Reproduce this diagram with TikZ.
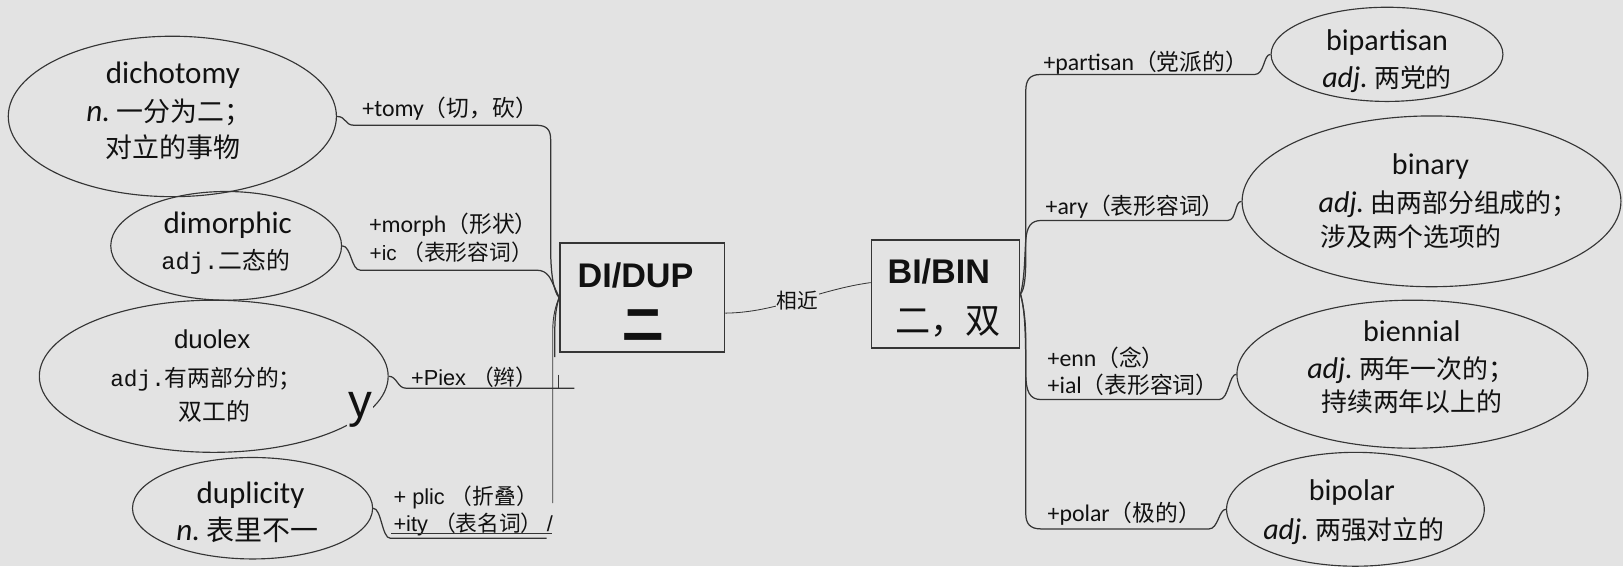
\documentclass[tikz,border=0pt]{standalone}
\usepackage{fontspec}
\setmainfont{Carlito}
\newfontfamily\cjk{Noto Sans CJK SC}
\newfontfamily\arialf{Liberation Sans}
\newfontfamily\monof{Liberation Mono}
\usetikzlibrary{shapes.geometric}
\newcommand\setfs[1]{\fontsize{#1}{#1}\selectfont}
\definecolor{bgc}{HTML}{E3E3E3}
\definecolor{lnc}{HTML}{353535}
\definecolor{txc}{HTML}{111111}
\begin{document}
\begin{tikzpicture}[x=1pt,y=-1pt,
  ell/.style={draw=lnc,line width=1.1pt,ellipse,inner sep=0pt},
  boxn/.style={draw=lnc,line width=1.7pt,rectangle,inner sep=0pt},
  conn/.style={draw=lnc,line width=1.2pt},
  tl/.style={anchor=base,text=txc,inner sep=0pt},
  lbl/.style={anchor=base west,text=txc,inner sep=0pt}]
\fill[bgc] (0,0) rectangle (1568,547);
\useasboundingbox (0,0) rectangle (1568,547);

% ---------- central boxes ----------
\node[boxn,minimum width=159,minimum height=105] (DI) at (620.5,287.5) {};
\node[boxn,minimum width=143,minimum height=104] (BI) at (913.5,284) {};
\node[tl] (dit) at (614,278) {\arialf\bfseries\setfs{33}DI/DUP};
\node[tl] (dic) at (621,328) {\cjk\bfseries\setfs{40}二};
\node[tl] (bit) at (907,274) {\arialf\bfseries\setfs{33}BI/BIN};
\node[tl] (bic) at (916,322) {\cjk\setfs{34}二，双};

\draw[conn,line width=0.8pt] ([yshift=-15pt]DI.east) .. controls (750,302) and (790,280) .. ([yshift=11pt]BI.west)
  node[pos=0.5,fill=bgc,inner sep=1pt,text=txc] (jin) {\cjk\setfs{20}相近};

% ---------- left ellipses ----------
\node[ell,minimum width=317,minimum height=155] (dich) at (166.5,112.5) {};
\node[tl] (dich1) at (167,81) {\setfs{30}dichotomy};
\node[tl] (dich2) at (163,117) {{\setfs{30}\itshape n.}\hspace{6pt}{\cjk\setfs{26}一分为二；}};
\node[tl] (dich3) at (167,152) {\cjk\setfs{26}对立的事物};

\node[ell,minimum width=223,minimum height=105] (dim) at (218.5,237.5) {};
\node[tl] (dim1) at (220,226) {\setfs{30}dimorphic};
\node[tl] (dim2) at (218,260) {{\monof\setfs{23}adj.}{\cjk\setfs{23}二态的}};

\node[ell,minimum width=337,minimum height=147] (duo) at (206.5,363.5) {};
\node[tl] (duo1) at (205,337) {\arialf\setfs{25}duolex};
\node[tl] (duo2) at (199,373) {{\monof\setfs{22}adj.}{\cjk\setfs{22}有两部分的；}};
\node[tl] (duo3) at (207,406) {\cjk\setfs{23}双工的};
\node[tl,fill=bgc,inner sep=1pt] (duoy) at (348,403) {\arialf\setfs{46}y};

\node[ell,minimum width=232,minimum height=98] (dup) at (244,491) {};
\node[tl] (dup1) at (242,486) {\setfs{30}duplicity};
\node[tl] (dup2) at (239,522) {{\setfs{30}\itshape n.}\hspace{6pt}{\cjk\setfs{27}表里不一}};

% ---------- right ellipses ----------
\node[ell,minimum width=224,minimum height=91] (bip) at (1340,52.5) {};
\node[tl] (bip1) at (1340,49) {\setfs{29}bipartisan};
\node[tl] (bip2) at (1340,85) {{\setfs{29}\itshape adj.}\hspace{6pt}{\cjk\setfs{25}两党的}};

\node[ell,minimum width=366,minimum height=165] (bin) at (1383,194.5) {};
\node[tl] (bin1) at (1382,169) {\setfs{29}binary};
\node[tl] (bin2) at (1399,205) {{\setfs{29}\itshape adj.}\hspace{6pt}{\cjk\setfs{25}由两部分组成的；}};
\node[tl] (bin3) at (1363,238) {\cjk\setfs{25}涉及两个选项的};

\node[ell,minimum width=339,minimum height=143] (bien) at (1364.5,361.5) {};
\node[tl] (bien1) at (1364,330) {\setfs{29}biennial};
\node[tl] (bien2) at (1363,366) {{\setfs{29}\itshape adj.}\hspace{6pt}{\cjk\setfs{25}两年一次的；}};
\node[tl] (bien3) at (1364,398) {\cjk\setfs{25}持续两年以上的};

\node[ell,minimum width=249,minimum height=110] (bipo) at (1309.5,492) {};
\node[tl] (bipo1) at (1306,484) {\setfs{29}bipolar};
\node[tl] (bipo2) at (1308,521) {{\setfs{29}\itshape adj.}\hspace{6pt}{\cjk\setfs{25}两强对立的}};

% ---------- left labels ----------
\node[lbl] (l1) at (350,113) {\setfs{23}+tomy{\cjk\setfs{22}（切，砍）}};
\node[lbl] (l2) at (357,225) {\setfs{23}+morph{\cjk\setfs{22}（形状）}};
\node[lbl] (l3) at (357,252) {\arialf\setfs{20}+ic {\cjk\setfs{21}（表形容词）}};
\node[lbl] (l4) at (397,372) {\arialf\setfs{21}+Piex {\cjk（辫）}};
\node[lbl] (l5) at (380,487) {\arialf\setfs{21}+ plic {\cjk（折叠）}};
\node[lbl] (l6) at (380,513) {\arialf\setfs{21}+ity {\cjk（表名词）}\hspace{4pt}/};

% ---------- right labels ----------
\node[lbl] (r1) at (1008,68) {\setfs{23}+partisan{\cjk\setfs{22}（党派的）}};
\node[lbl] (r2) at (1010,207) {\setfs{23}+ary{\cjk\setfs{22}（表形容词）}};
\node[lbl] (r3) at (1012,354) {\setfs{23}+enn{\cjk\setfs{22}（念）}};
\node[lbl] (r4) at (1012,380) {\setfs{23}+ial{\cjk\setfs{22}（表形容词）}};
\node[lbl] (r5) at (1012,504) {\setfs{23}+polar{\cjk\setfs{22}（极的）}};

% ---------- left connectors ----------
\draw[conn] (dich.east) .. controls +(9,0) and +(-9,0) .. (342,121) -- (518,121)
  .. controls (528,121) and (532,125) .. (532,135) -- (532,240)
  .. controls (532,265) and (535,282) .. (DI.west);
\draw[conn] (dim.east) .. controls +(9,0) and +(-9,0) .. (348,261) -- (518,261)
  .. controls (530,261) and (532,270) .. (536,278)
  .. controls (538,283) and (540,286) .. (DI.west);
\draw[conn] (duo.east) .. controls +(8,0) and +(-8,0) .. (392,375) -- (555,375);
\draw[conn] (DI.west) .. controls (539,292) and (536,300) .. (536,320) -- (536,345);
\draw[conn,line width=0.9pt] (540,362) -- (540,375);
\draw[conn] (dup.east) .. controls +(8,0) and +(-8,0) .. (377,520) -- (528,520);
\draw[conn,line width=0.9pt] (DI.west) .. controls (537,295) and (534,305) .. (534,320) -- (534,486);
\draw[conn,line width=1pt] (378,515) -- (533,515);

% ---------- right connectors ----------
\draw[conn] (BI.east) .. controls (990,280) and (991,265) .. (991,250) -- (991,88)
  .. controls (991,77) and (995,72) .. (1005,72) -- (1212,72)
  .. controls +(10,0) and +(-7,0) .. (bip.west);
\draw[conn] (BI.east) .. controls (990,270) and (990,245) .. (991,232)
  .. controls (992,219) and (996,213) .. (1006,213) -- (1186,213)
  .. controls +(9,0) and +(-7,0) .. (bin.west);
\draw[conn] (BI.east) .. controls (990,298) and (991,320) .. (991,360)
  .. controls (991,379) and (995,386) .. (1006,386) -- (1178,386)
  .. controls +(9,0) and +(-7,0) .. (bien.west);
\draw[conn] (BI.east) .. controls (990,300) and (991,315) .. (991,330) -- (991,496)
  .. controls (991,506) and (995,511) .. (1006,511) -- (1168,511)
  .. controls +(9,0) and +(-7,0) .. (bipo.west);
\end{tikzpicture}
\end{document}
